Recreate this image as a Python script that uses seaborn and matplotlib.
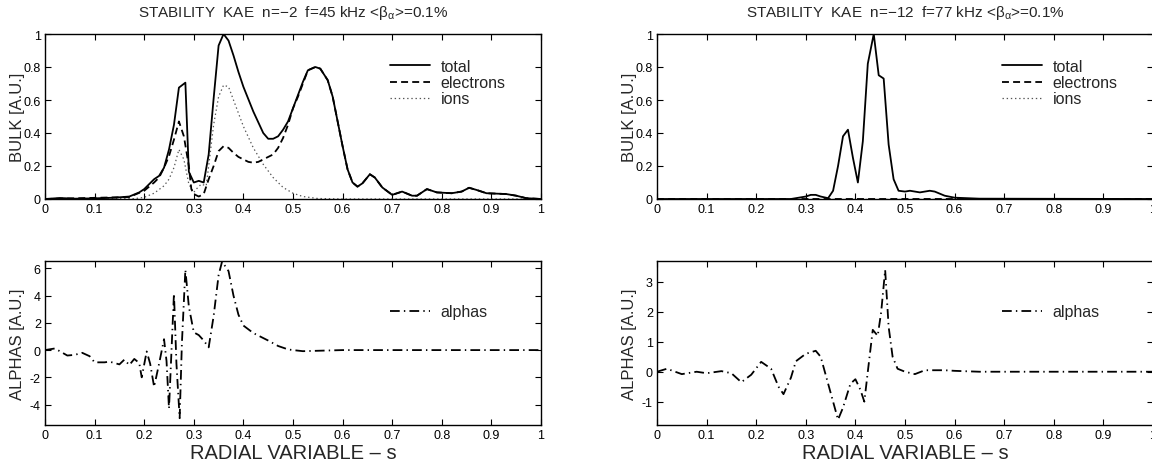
import numpy as np
import pandas as pd
import matplotlib
matplotlib.use("Agg")
import matplotlib.pyplot as plt
from matplotlib.ticker import FormatStrFormatter
import seaborn as sns

# ---------------- data ----------------
# Left panel (n=-2), bulk contributions
l_tot_x = [0.00, 0.03, 0.06, 0.10, 0.14, 0.17, 0.19, 0.20, 0.22, 0.23, 0.24, 0.25, 0.26, 0.27, 0.283,
           0.29, 0.30, 0.31, 0.32, 0.33, 0.34, 0.35, 0.36, 0.37, 0.38, 0.39, 0.40, 0.42, 0.44, 0.45,
           0.46, 0.47, 0.48, 0.49, 0.50, 0.51, 0.52, 0.53, 0.545, 0.555, 0.57, 0.58, 0.59, 0.60, 0.61,
           0.62, 0.63, 0.64, 0.655, 0.665, 0.68, 0.70, 0.72, 0.74, 0.75, 0.77, 0.79, 0.82, 0.84, 0.855,
           0.87, 0.89, 0.93, 0.95, 0.97, 1.00]
l_tot_y = [0.000, 0.006, 0.002, 0.004, 0.008, 0.015, 0.04, 0.06, 0.12, 0.14, 0.19, 0.30, 0.45, 0.675, 0.705,
           0.165, 0.10, 0.11, 0.10, 0.27, 0.61, 0.93, 1.00, 0.96, 0.87, 0.77, 0.68, 0.53, 0.40, 0.365,
           0.365, 0.38, 0.42, 0.47, 0.55, 0.63, 0.71, 0.78, 0.80, 0.79, 0.72, 0.62, 0.47, 0.32, 0.18,
           0.10, 0.075, 0.095, 0.15, 0.13, 0.07, 0.025, 0.045, 0.02, 0.02, 0.06, 0.04, 0.035, 0.045, 0.068,
           0.055, 0.035, 0.03, 0.02, 0.005, 0.0]

l_ele_x = [0.00, 0.17, 0.20, 0.22, 0.23, 0.24, 0.25, 0.26, 0.27, 0.28, 0.29, 0.295, 0.30, 0.31, 0.32,
           0.33, 0.34, 0.35, 0.36, 0.37, 0.38, 0.39, 0.40, 0.41, 0.42, 0.43, 0.44, 0.46, 0.47, 0.48,
           0.49, 0.50, 0.51, 0.52, 0.53, 0.545, 0.555, 0.57, 0.58, 0.59, 0.60, 0.61, 0.62, 0.63, 0.64,
           0.655, 0.665, 0.68, 0.70, 0.72, 0.74, 0.75, 0.77, 0.79, 0.82, 0.84, 0.855, 0.87, 0.89, 0.93,
           0.95, 0.97, 1.00]
l_ele_y = [0.0, 0.012, 0.05, 0.10, 0.13, 0.19, 0.26, 0.36, 0.47, 0.38, 0.20, 0.06, 0.03, 0.015, 0.03,
           0.12, 0.20, 0.29, 0.32, 0.31, 0.28, 0.255, 0.24, 0.225, 0.22, 0.225, 0.24, 0.27, 0.31, 0.37,
           0.45, 0.55, 0.62, 0.70, 0.78, 0.80, 0.79, 0.72, 0.62, 0.47, 0.32, 0.18, 0.10, 0.075, 0.095,
           0.15, 0.13, 0.07, 0.025, 0.045, 0.02, 0.02, 0.06, 0.04, 0.035, 0.045, 0.068, 0.055, 0.035, 0.03,
           0.02, 0.005, 0.0]

l_ion_x = [0.0, 0.18, 0.20, 0.22, 0.24, 0.25, 0.26, 0.27, 0.28, 0.29, 0.30, 0.305, 0.315, 0.325, 0.33,
           0.34, 0.35, 0.36, 0.37, 0.38, 0.39, 0.40, 0.42, 0.44, 0.46, 0.48, 0.50, 0.52, 0.55, 0.60, 1.0]
l_ion_y = [0.0, 0.002, 0.01, 0.035, 0.08, 0.12, 0.19, 0.30, 0.24, 0.09, 0.04, 0.06, 0.09, 0.08, 0.2,
           0.45, 0.62, 0.69, 0.68, 0.60, 0.52, 0.44, 0.31, 0.21, 0.13, 0.07, 0.035, 0.015, 0.003, 0.0, 0.0]

# Left panel alphas
l_alp_x = [0.00, 0.02, 0.045, 0.06, 0.075, 0.09, 0.10, 0.12, 0.13, 0.15, 0.16, 0.17, 0.18, 0.19, 0.195,
           0.205, 0.212, 0.22, 0.23, 0.24, 0.245, 0.25, 0.26, 0.265, 0.2715, 0.276, 0.283, 0.29, 0.30, 0.31,
           0.32, 0.33, 0.34, 0.35, 0.357, 0.37, 0.38, 0.39, 0.40, 0.42, 0.45, 0.47, 0.49, 0.50, 0.52,
           0.55, 0.60, 1.00]
l_alp_y = [0.0, 0.12, -0.4, -0.35, -0.2, -0.45, -0.9, -0.9, -0.85, -1.05, -0.7, -1.1, -0.65, -0.95, -2.0,
           -0.1, -1.0, -2.7, -1.0, 0.8, -0.8, -4.3, 4.15, -1.0, -5.0, 0.5, 5.9, 3.2, 1.3, 1.1,
           0.7, 0.2, 2.5, 5.5, 6.5, 5.8, 4.0, 2.6, 1.8, 1.25, 0.7, 0.3, 0.05, 0.0, -0.08,
           -0.05, 0.0, 0.0]

# Right panel (n=-12), bulk contributions
r_tot_x = [0.00, 0.27, 0.28, 0.30, 0.31, 0.32, 0.33, 0.345, 0.355, 0.365, 0.375, 0.385, 0.395, 0.405,
           0.415, 0.425, 0.437, 0.447, 0.457, 0.467, 0.477, 0.487, 0.50, 0.51, 0.53, 0.55, 0.56, 0.58,
           0.60, 0.65, 1.00]
r_tot_y = [0.0, 0.0, 0.005, 0.015, 0.025, 0.025, 0.015, 0.005, 0.05, 0.2, 0.38, 0.42, 0.25, 0.10,
           0.35, 0.82, 1.00, 0.75, 0.73, 0.33, 0.12, 0.05, 0.045, 0.05, 0.04, 0.05, 0.045, 0.02,
           0.008, 0.002, 0.0]
r_ele_x = [0.0, 0.5, 1.0]
r_ele_y = [0.0, 0.0, 0.0]
r_ion_x = [0.0, 0.5, 1.0]
r_ion_y = [0.0, 0.0, 0.0]

# Right panel alphas
r_alp_x = [0.00, 0.01, 0.02, 0.05, 0.08, 0.10, 0.13, 0.15, 0.17, 0.19, 0.21, 0.23, 0.245, 0.255, 0.27,
           0.28, 0.30, 0.32, 0.33, 0.345, 0.365, 0.375, 0.39, 0.40, 0.41, 0.418, 0.425, 0.435, 0.445,
           0.452, 0.46, 0.467, 0.475, 0.485, 0.50, 0.52, 0.54, 0.58, 0.60, 0.65, 1.00]
r_alp_y = [0.0, 0.05, 0.1, -0.08, 0.0, -0.05, 0.02, -0.05, -0.35, -0.1, 0.33, 0.1, -0.5, -0.75, -0.2,
           0.35, 0.6, 0.7, 0.5, -0.4, -1.6, -1.2, -0.4, -0.25, -0.6, -1.0, 0.0, 1.4, 1.2,
           2.0, 3.4, 1.5, 0.5, 0.1, 0.0, -0.08, 0.05, 0.05, 0.03, 0.0, 0.0]

titles = [r"STABILITY  KAE  n=−2  f=45 kHz <$\mathrm{\beta_\alpha}$>=0.1%",
          r"STABILITY  KAE  n=−12  f=77 kHz <$\mathrm{\beta_\alpha}$>=0.1%"]
series_labels = ["total", "electrons", "ions"]
alpha_label = "alphas"
x_ticks = [0, 0.1, 0.2, 0.3, 0.4, 0.5, 0.6, 0.7, 0.8, 0.9, 1.0]
bulk_ticks = [0, 0.2, 0.4, 0.6, 0.8, 1.0]
l_alp_ticks = [-4, -2, 0, 2, 4, 6]
r_alp_ticks = [-1, 0, 1, 2, 3]

# ---------------- style ----------------
sns.set_style("ticks")
plt.rcParams["font.family"] = ["Liberation Sans", "DejaVu Sans"]
plt.rcParams["mathtext.fontset"] = "custom"
plt.rcParams["mathtext.rm"] = "Liberation Sans"
plt.rcParams["mathtext.it"] = "Liberation Sans"
plt.rcParams["mathtext.sf"] = "Liberation Sans"
plt.rcParams["axes.linewidth"] = 1.0
plt.rcParams["lines.scale_dashes"] = False

fig = plt.figure(figsize=(11.52, 4.64), dpi=100)
W, H = 1152.0, 464.0
axw = 496 / W
pos = {
    "lt": [45 / W, 1 - 200 / H, axw, 165 / H],
    "lb": [45 / W, 1 - 426 / H, axw, 164 / H],
    "rt": [657 / W, 1 - 200 / H, axw, 165 / H],
    "rb": [657 / W, 1 - 426 / H, axw, 164 / H],
}
axes = {k: fig.add_axes(v) for k, v in pos.items()}

LW = 1.3
sty_tot = dict(color="black", linewidth=LW, linestyle="-")
sty_ele = dict(color="black", linewidth=LW, linestyle=(0, (5, 3)))
sty_ion = dict(color="#555555", linewidth=0.9, linestyle=(0, (1, 2)))
sty_alp = dict(color="black", linewidth=LW, linestyle=(0, (7, 3, 1, 3)))


def bulk(ax, tx, ty, ex, ey, ix, iy):
    sns.lineplot(x=ix, y=iy, ax=ax, label=series_labels[2], estimator=None, sort=False, **sty_ion)
    sns.lineplot(x=ex, y=ey, ax=ax, label=series_labels[1], estimator=None, sort=False, **sty_ele)
    sns.lineplot(x=tx, y=ty, ax=ax, label=series_labels[0], estimator=None, sort=False, **sty_tot)
    h, l = ax.get_legend_handles_labels()
    order = [2, 1, 0]
    ax.legend([h[i] for i in order], [l[i] for i in order], loc="center left",
              bbox_to_anchor=(0.695, 0.705), frameon=False, fontsize=11.5,
              handlelength=2.5, handletextpad=0.7, labelspacing=0.08,
              borderpad=0, borderaxespad=0)
    ax.set_ylim(0, 1)
    ax.set_yticks(bulk_ticks)
    ax.set_ylabel("BULK [A.U.]", fontsize=12)


def alphas(ax, x, y, ylim, ticks):
    sns.lineplot(x=x, y=y, ax=ax, label=alpha_label, estimator=None, sort=False, **sty_alp)
    ax.legend(loc="center left", bbox_to_anchor=(0.695, 0.69), frameon=False, fontsize=11.5,
              handlelength=2.5, handletextpad=0.7, borderpad=0, borderaxespad=0)
    ax.set_ylim(*ylim)
    ax.set_yticks(ticks)
    ax.set_ylabel("ALPHAS [A.U.]", fontsize=12)
    ax.set_xlabel("RADIAL VARIABLE – s", fontsize=14.5)
    ax.xaxis.set_label_coords(0.5, -0.11)


bulk(axes["lt"], l_tot_x, l_tot_y, l_ele_x, l_ele_y, l_ion_x, l_ion_y)
bulk(axes["rt"], r_tot_x, r_tot_y, r_ele_x, r_ele_y, r_ion_x, r_ion_y)
alphas(axes["lb"], l_alp_x, l_alp_y, (-5.5, 6.54), l_alp_ticks)
alphas(axes["rb"], r_alp_x, r_alp_y, (-1.78, 3.7), r_alp_ticks)

axes["lt"].set_title(titles[0], fontsize=11, pad=13)
axes["rt"].set_title(titles[1], fontsize=11, pad=13)

for k, ax in axes.items():
    ax.set_xlim(0, 1)
    ax.set_xticks(x_ticks)
    ax.xaxis.set_major_formatter(FormatStrFormatter("%g"))
    ax.yaxis.set_major_formatter(FormatStrFormatter("%g"))
    ax.tick_params(direction="in", top=True, right=True, length=4, width=0.8,
                   labelsize=9, pad=3, colors="black")
    for s in ax.spines.values():
        s.set_visible(True)
        s.set_color("black")
    ax.yaxis.set_label_coords(-0.04, 0.5)
    if k in ("lt", "rt"):
        ax.set_xlabel("")

fig.savefig("out.png", dpi=100)
